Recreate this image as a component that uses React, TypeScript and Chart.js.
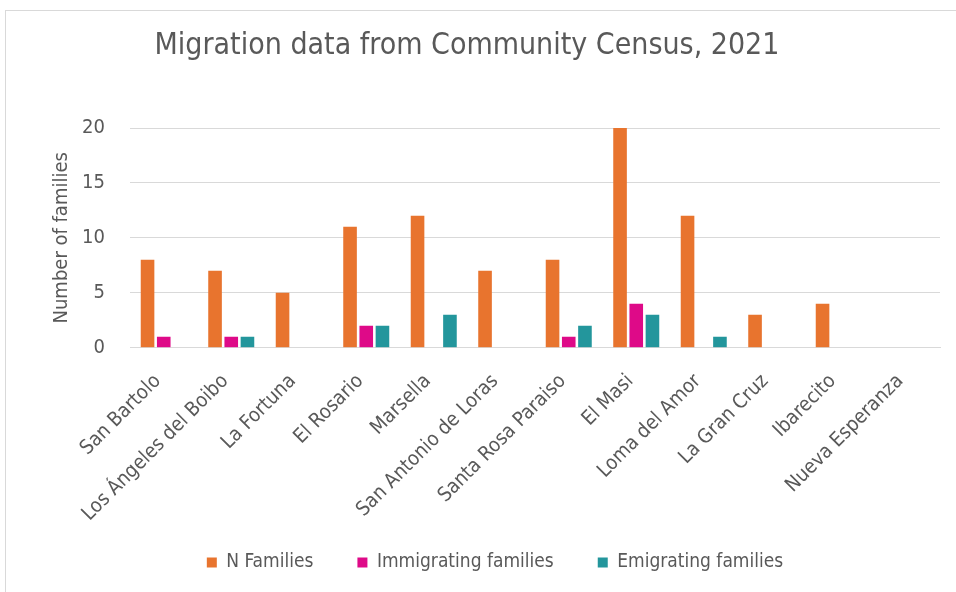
import React, { useEffect, useRef } from "react";
import { Chart, registerables } from "chart.js";

Chart.register(...registerables);

const categories = [
  "San Bartolo",
  "Los Ángeles del Boibo",
  "La Fortuna",
  "El Rosario",
  "Marsella",
  "San Antonio de Loras",
  "Santa Rosa Paraiso",
  "El Masi",
  "Loma del Amor",
  "La Gran Cruz",
  "Ibarecito",
  "Nueva Esperanza",
];
const nFamilies = [8, 7, 5, 11, 12, 7, 8, 20, 12, 3, 4, 0];
const immigrating = [1, 1, 0, 2, 0, 0, 1, 4, 0, 0, 0, 0];
const emigrating = [0, 1, 0, 2, 3, 0, 2, 3, 1, 0, 0, 0];
const yTicks = [0, 5, 10, 15, 20];

const FONT = "'Liberation Sans Narrow', 'Arial Narrow', 'DejaVu Sans Condensed', 'Liberation Sans', sans-serif";
const TEXT = "#595959";

const titleShift = {
  id: "titleShift",
  afterLayout(chart: any) {
    const t = chart.titleBlock;
    if (t) {
      t.left -= 28;
      t.right -= 28;
    }
  },
};

export default function App() {
  const ref = useRef<HTMLCanvasElement | null>(null);
  useEffect(() => {
    if (!ref.current) return;
    const chart = new Chart(ref.current, {
      type: "bar",
      data: {
        labels: categories,
        datasets: [
          { label: "N Families", data: nFamilies, backgroundColor: "#E8742E" },
          { label: "Immigrating families", data: immigrating, backgroundColor: "#DE0A88" },
          { label: "Emigrating families", data: emigrating, backgroundColor: "#23969C" },
        ],
      },
      plugins: [titleShift],
      options: {
        responsive: false,
        animation: false,
        layout: { padding: { left: 50, right: 16, top: 20, bottom: 10 } },
        datasets: { bar: { barPercentage: 0.84, categoryPercentage: 0.72 } } as any,
        plugins: {
          title: {
            display: true,
            text: "Migration data from Community Census, 2021",
            color: TEXT,
            font: { family: FONT, size: 30, weight: "normal" },
            padding: { top: 8, bottom: 64 },
          },
          legend: {
            position: "bottom",
            labels: {
              color: TEXT,
              font: { family: FONT, size: 19 },
              boxWidth: 10,
              boxHeight: 10,
              padding: 44,
            },
          },
          tooltip: { enabled: false },
        },
        scales: {
          x: {
            grid: { display: false },
            border: { color: "#d9d9d9" },
            afterFit: (axis: any) => {
              axis.height = axis.height - 31;
              axis._computeLabelArea = () => undefined;
            },
            ticks: {
              color: TEXT,
              font: { family: FONT, size: 20 },
              maxRotation: 45,
              minRotation: 45,
              autoSkip: false,
              padding: 14,
              labelOffset: -6,
            },
          },
          y: {
            min: 0,
            max: 20,
            afterBuildTicks: (axis: any) => {
              axis.ticks = yTicks.map((v) => ({ value: v }));
            },
            afterFit: (axis: any) => {
              axis.width = 80;
            },
            grid: { color: "#d9d9d9", drawTicks: false },
            border: { display: false },
            ticks: {
              color: TEXT,
              font: { family: FONT, size: 20 },
              padding: 25,
            },
            title: {
              display: true,
              text: "Number of families",
              color: TEXT,
              font: { family: FONT, size: 20 },
              padding: { top: 0, bottom: 8 },
            },
          },
        },
      },
    });
    return () => chart.destroy();
  }, []);
  return (
    <div style={{ position: "fixed", left: 0, top: 0, width: 956, height: 592, background: "#fff" }}>
      <div
        style={{
          position: "absolute",
          left: 5,
          top: 10,
          width: 1000,
          height: 600,
          border: "1px solid #d9d9d9",
        }}
      />
      <canvas ref={ref} width={956} height={592} style={{ position: "absolute", left: 0, top: 0, display: "block" }} />
    </div>
  );
}
